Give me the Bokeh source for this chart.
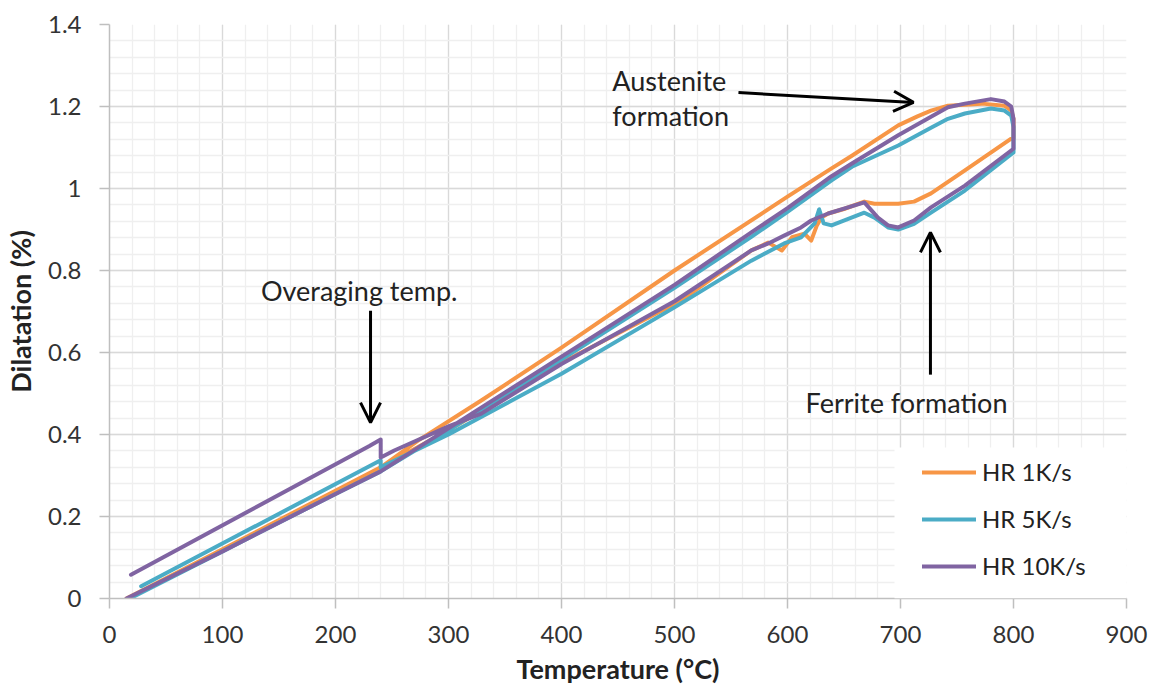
from bokeh.plotting import figure
from bokeh.models import (Range1d, FixedTicker, Legend, LegendItem, Label, Arrow,
                          OpenHead, BoxAnnotation)
from bokeh.embed import file_html
from bokeh.resources import INLINE
import numpy as np

# ---------------- data ----------------
hr1_temp = [15, 100, 141, 200, 240, 273, 329, 400, 500, 600, 639, 657, 698, 715, 727, 742, 772, 792, 798,
            800, 800,
            797, 757, 727, 712, 698, 677, 668, 650, 636, 630, 626, 621, 615, 604, 595, 583, 568, 506, 400, 300, 240, 100, 15]
hr1_dil = [0.0, 0.12, 0.178, 0.262, 0.32, 0.385, 0.483, 0.612, 0.80, 0.98, 1.049, 1.08, 1.154, 1.176, 1.19, 1.202, 1.207, 1.202, 1.19,
           1.17, 1.122,
           1.12, 1.044, 0.988, 0.968, 0.963, 0.963, 0.968, 0.95, 0.939, 0.929, 0.91, 0.873, 0.89, 0.881, 0.849, 0.868, 0.849, 0.727, 0.575, 0.41, 0.32, 0.12, 0.0]

hr5_temp = [18, 100, 200, 240, 300, 400, 500, 568, 600, 639, 657, 698, 727, 742, 757, 780, 792, 798,
            800, 800,
            757, 727, 712, 698, 689, 677, 668, 639, 632, 628, 624, 612, 597, 568, 500, 400, 300, 240,
            240, 28]
hr5_dil = [0.0, 0.115, 0.255, 0.31, 0.41, 0.583, 0.758, 0.882, 0.943, 1.02, 1.053, 1.105, 1.148, 1.17, 1.183, 1.195, 1.19, 1.178,
           1.15, 1.088,
           0.995, 0.941, 0.914, 0.90, 0.905, 0.929, 0.941, 0.91, 0.915, 0.949, 0.915, 0.881, 0.866, 0.824, 0.71, 0.548, 0.40, 0.32,
           0.337, 0.03]

hr10_temp = [15, 100, 200, 240, 300, 400, 500, 568, 600, 639, 657, 698, 727, 742, 757, 780, 792, 798,
             800, 800,
             757, 727, 712, 698, 689, 680, 668, 636, 621, 612, 597, 583, 568, 500, 400, 329, 300, 252, 240,
             240, 230, 19]
hr10_dil = [0.0, 0.115, 0.255, 0.31, 0.415, 0.59, 0.765, 0.893, 0.952, 1.03, 1.061, 1.13, 1.175, 1.198, 1.207, 1.218, 1.212, 1.2,
            1.17, 1.097,
            1.007, 0.954, 0.922, 0.905, 0.91, 0.929, 0.966, 0.939, 0.922, 0.905, 0.885, 0.866, 0.849, 0.725, 0.572, 0.451, 0.42, 0.361, 0.344,
            0.388, 0.372, 0.058]

series_names = ["HR 1K/s", "HR 5K/s", "HR 10K/s"]
series_colors = ["#F79646", "#4BACC6", "#8064A2"]

x_ticks = [0, 100, 200, 300, 400, 500, 600, 700, 800, 900]
y_ticks = [0, 0.2, 0.4, 0.6, 0.8, 1.0, 1.2, 1.4]
y_tick_labels = ["0", "0.2", "0.4", "0.6", "0.8", "1", "1.2", "1.4"]

FONT = "Lato"

p = figure(width=1153, height=688, x_range=Range1d(0, 900), y_range=Range1d(0, 1.4),
           output_backend="svg", toolbar_location=None,
           min_border_left=108, min_border_right=27, min_border_top=24, min_border_bottom=90)
p.outline_line_color = None
p.background_fill_color = "white"

x_minor = [float(v) for v in np.arange(0, 901, 20)]
y_minor = [float(round(v, 2)) for v in np.arange(0, 1.401, 0.04)]
p.xaxis.ticker = FixedTicker(ticks=x_ticks, minor_ticks=x_minor)
p.yaxis.ticker = FixedTicker(ticks=y_ticks, minor_ticks=y_minor)
p.yaxis.major_label_overrides = {t: l for t, l in zip(y_ticks, y_tick_labels)}

for ax in (p.xaxis, p.yaxis):
    ax.axis_line_color = "#BFBFBF"
    ax.axis_line_width = 1.5
    ax.major_tick_line_color = "#BFBFBF"
    ax.major_tick_line_width = 1.5
    ax.major_tick_out = 10
    ax.major_tick_in = 0
    ax.minor_tick_out = 0
    ax.minor_tick_in = 0
    ax.major_label_text_font = FONT
    ax.major_label_text_font_size = "24px"
    ax.major_label_text_color = "#333333"
    ax.axis_label_text_font = FONT
    ax.axis_label_text_font_size = "27px"
    ax.axis_label_text_font_style = "bold"
    ax.axis_label_text_color = "#222222"

p.yaxis.major_label_standoff = 18
p.xaxis.major_label_standoff = 17
p.xaxis.axis_label = "Temperature (°C)"
p.yaxis.axis_label = "Dilatation (%)"
p.xaxis.axis_label_standoff = 6
p.yaxis.axis_label_standoff = 8

p.xgrid.grid_line_color = "#D9D9D9"
p.ygrid.grid_line_color = "#D9D9D9"
p.xgrid.minor_grid_line_color = "#EFEFEF"
p.ygrid.minor_grid_line_color = "#EFEFEF"
p.xgrid.grid_line_width = 1.3
p.ygrid.grid_line_width = 1.3
p.xgrid.minor_grid_line_width = 1.3
p.ygrid.minor_grid_line_width = 1.3

renderers = []
for t, d, c in zip([hr1_temp, hr5_temp, hr10_temp], [hr1_dil, hr5_dil, hr10_dil], series_colors):
    r = p.line(t, d, line_color=c, line_width=4, line_join="round", line_cap="round")
    renderers.append(r)

# white legend background
box = BoxAnnotation(left=694.7, right=900, bottom=0, top=0.368, fill_color="white", fill_alpha=1.0,
                    line_color=None)
p.add_layout(box)

legend = Legend(items=[LegendItem(label=n, renderers=[r]) for n, r in zip(series_names, renderers)],
                location=(813, 18), padding=0, margin=0, spacing=18, glyph_width=54, glyph_height=20,
                label_height=20, label_standoff=6, background_fill_alpha=0, border_line_color=None,
                label_text_font=FONT, label_text_font_size="24px", label_text_color="#222222")
p.add_layout(legend, "center")

# annotations
def lab(x, y, txt):
    p.add_layout(Label(x=x, y=y, text=txt, text_font=FONT, text_font_size="27px",
                       text_color="#222222", text_baseline="middle", text_align="left"))

lab(134, 0.751, "Overaging temp.")
lab(445, 1.263, "Austenite")
lab(445, 1.178, "formation")
lab(616, 0.478, "Ferrite formation")

for xs, ys, xe, ye in [(231, 0.702, 231, 0.429), (556.6, 1.234, 711.5, 1.21), (726.5, 0.546, 726.5, 0.893)]:
    p.add_layout(Arrow(end=OpenHead(size=20, line_width=3, line_color="black"),
                       x_start=xs, y_start=ys, x_end=xe, y_end=ye, line_width=3, line_color="black"))

open("out.html", "w").write(file_html(p, INLINE))
